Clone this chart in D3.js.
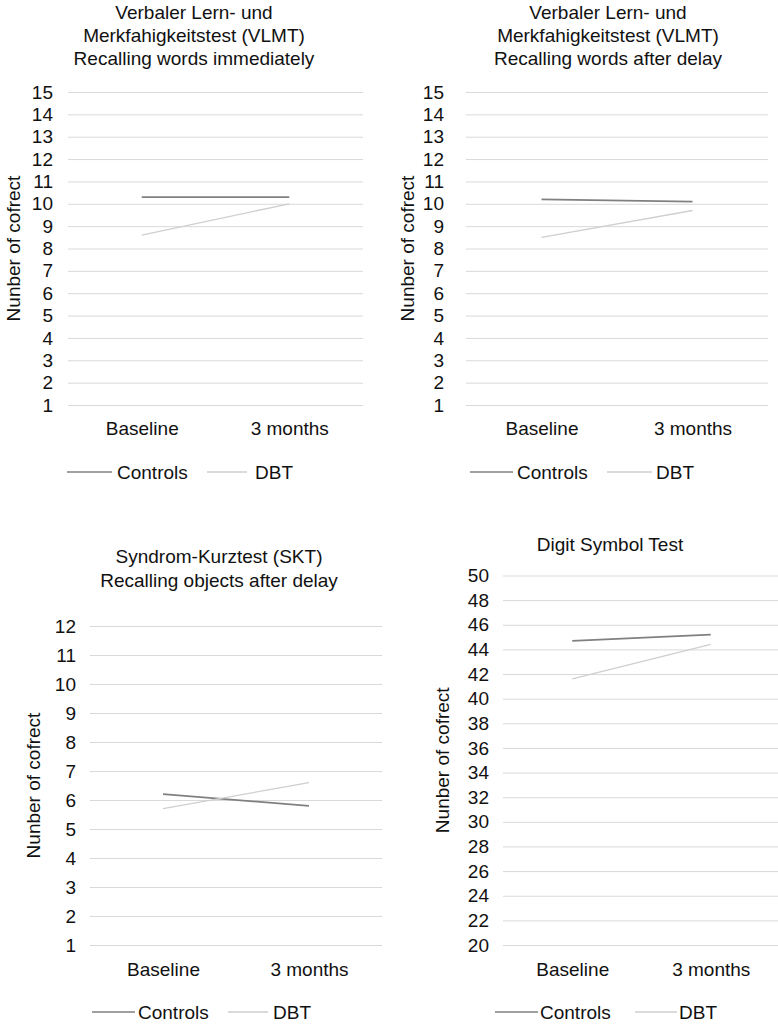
<!DOCTYPE html>
<html>
<head>
<meta charset="utf-8">
<script src="https://cdn.jsdelivr.net/npm/d3@7/dist/d3.min.js"></script>
<style>
  html, body { margin: 0; padding: 0; background: #fff; }
  svg { display: block; font-family: "Liberation Sans", Arial, sans-serif; }
</style>
</head>
<body>
<svg id="chart" width="778" height="1024"></svg>
<script>
// ---- Data ----
const categories = ["Baseline", "3 months"];
const seriesNames = ["Controls", "DBT"];

const vlmtImmediateControls = [10.3, 10.3];
const vlmtImmediateDBT = [8.6, 10.0];
const vlmtDelayControls = [10.2, 10.1];
const vlmtDelayDBT = [8.5, 9.7];
const sktControls = [6.2, 5.8];
const sktDBT = [5.7, 6.6];
const digitControls = [44.7, 45.2];
const digitDBT = [41.6, 44.4];

const vlmtTicks = [1, 2, 3, 4, 5, 6, 7, 8, 9, 10, 11, 12, 13, 14, 15];
const sktTicks = [1, 2, 3, 4, 5, 6, 7, 8, 9, 10, 11, 12];
const digitTicks = [20, 22, 24, 26, 28, 30, 32, 34, 36, 38, 40, 42, 44, 46, 48, 50];

const titleImmediate = ["Verbaler Lern- und", "Merkfahigkeitstest (VLMT)", "Recalling words immediately"];
const titleDelay = ["Verbaler Lern- und", "Merkfahigkeitstest (VLMT)", "Recalling words after delay"];
const titleSkt = ["Syndrom-Kurztest (SKT)", "Recalling objects after delay"];
const titleDigit = ["Digit Symbol Test"];
const yAxisTitle = "Nunber of cofrect";

// ---- Layout (positions/styles only) ----
const panels = [
  { title: titleImmediate, ticks: vlmtTicks, series: [vlmtImmediateControls, vlmtImmediateDBT],
    x0: 68, x1: 363, yTop: 92, yBot: 405, tickRight: 53, titleX: 194, titleY: [12, 35, 58],
    axisTitleX: 13, xLabelY: 428, legendY: 472, leg: [[67, 112, 117], [207, 247, 255]] },
  { title: titleDelay, ticks: vlmtTicks, series: [vlmtDelayControls, vlmtDelayDBT],
    x0: 466, x1: 768, yTop: 92, yBot: 405, tickRight: 444, titleX: 608, titleY: [12, 35, 58],
    axisTitleX: 407, xLabelY: 428, legendY: 472, leg: [[470, 513, 517], [607, 652, 656]] },
  { title: titleSkt, ticks: sktTicks, series: [sktControls, sktDBT],
    x0: 90, x1: 382, yTop: 626, yBot: 945, tickRight: 76, titleX: 219, titleY: [556, 580],
    axisTitleX: 33, xLabelY: 969, legendY: 1012, leg: [[92, 135, 138], [228, 268, 273]] },
  { title: titleDigit, ticks: digitTicks, series: [digitControls, digitDBT],
    x0: 503, x1: 780, yTop: 575.5, yBot: 945, tickRight: 489, titleX: 610, titleY: [544],
    axisTitleX: 442, xLabelY: 969, legendY: 1012, leg: [[495, 538, 540], [635, 677, 679]] }
];

const seriesColors = ["#808080", "#cfcfcf"];
const seriesWidths = [1.8, 1.3];
const fontSize = 19;

const svg = d3.select("#chart");

panels.forEach(p => {
  const g = svg.append("g");
  const y = d3.scaleLinear()
    .domain([d3.min(p.ticks), d3.max(p.ticks)])
    .range([p.yBot, p.yTop]);
  const x = d3.scalePoint()
    .domain(categories)
    .range([p.x0, p.x1])
    .padding(0.5);

  // gridlines via axis
  const yAxis = d3.axisLeft(y)
    .tickValues(p.ticks)
    .tickSize(-(p.x1 - p.x0))
    .tickPadding(p.x0 - p.tickRight)
    .tickFormat(d3.format("d"));
  const ya = g.append("g")
    .attr("transform", `translate(${p.x0},0)`)
    .call(yAxis);
  ya.select(".domain").remove();
  ya.selectAll(".tick line").attr("stroke", "#d9d9d9").attr("stroke-width", 1);
  ya.selectAll(".tick text")
    .attr("font-size", fontSize)
    .attr("font-family", "Liberation Sans, Arial, sans-serif")
    .attr("fill", "#111");

  // x labels via axis
  const xa = g.append("g")
    .attr("transform", `translate(0,${p.xLabelY})`)
    .call(d3.axisBottom(x).tickSize(0).tickPadding(0));
  xa.select(".domain").remove();
  xa.selectAll(".tick text")
    .attr("font-size", fontSize)
    .attr("font-family", "Liberation Sans, Arial, sans-serif")
    .attr("fill", "#111")
    .attr("dy", "0.35em")
    .attr("y", 0);

  // title
  g.append("text")
    .attr("text-anchor", "middle")
    .attr("font-size", fontSize)
    .attr("fill", "#111")
    .selectAll("tspan")
    .data(p.title)
    .join("tspan")
    .attr("x", p.titleX)
    .attr("y", (d, i) => p.titleY[i])
    .attr("dy", "0.35em")
    .text(d => d);

  // y axis title
  g.append("text")
    .attr("transform", `translate(${p.axisTitleX},${(p.yTop + p.yBot) / 2}) rotate(-90)`)
    .attr("text-anchor", "middle")
    .attr("dy", "0.35em")
    .attr("font-size", fontSize)
    .attr("fill", "#111")
    .text(yAxisTitle);

  // lines
  const line = d3.line()
    .x((d, i) => x(categories[i]))
    .y(d => y(d));
  p.series.forEach((s, si) => {
    g.append("path")
      .datum(s)
      .attr("d", line)
      .attr("fill", "none")
      .attr("stroke", seriesColors[si])
      .attr("stroke-width", seriesWidths[si]);
  });

  // legend
  seriesNames.forEach((name, si) => {
    const [lx0, lx1, tx] = p.leg[si];
    g.append("line")
      .attr("x1", lx0).attr("x2", lx1)
      .attr("y1", p.legendY).attr("y2", p.legendY)
      .attr("stroke", seriesColors[si])
      .attr("stroke-width", 1.5);
    g.append("text")
      .attr("x", tx).attr("y", p.legendY)
      .attr("dy", "0.35em")
      .attr("font-size", fontSize)
      .attr("fill", "#111")
      .text(name);
  });
});
</script>
</body>
</html>
